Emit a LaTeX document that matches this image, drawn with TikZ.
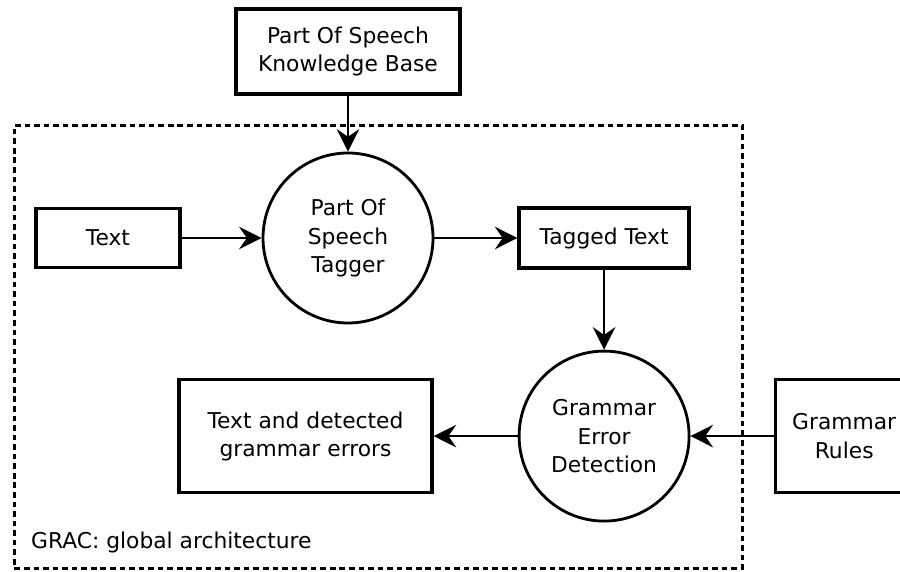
\documentclass[tikz,border=0pt]{standalone}
\usepackage{fontspec}
\setmainfont{DejaVu Sans}
\usetikzlibrary{
    positioning,
    arrows.meta
}

\begin{document}
\begin{tikzpicture}[
    font=\fontsize{15.5}{20}\selectfont,
    % node styles
    store/.style={rectangle, draw=black, line width=2.4pt, fill=white, align=center, inner sep=0pt},
    proc/.style={circle, draw=black, line width=2pt, fill=white, align=center, minimum size=4.25cm, inner sep=0pt},
    frame/.style={rectangle, draw=black, line width=2pt, dash pattern=on 4pt off 2.8pt, inner sep=0pt},
    % arrow styles
    arrow/.style={-{Stealth[length=16pt, width=16pt, inset=5.5pt]}, line width=1.8pt, draw=black}
]
\clip (0,0) rectangle (22.5,-14.3);

% --- system boundary ---
\node[frame, anchor=north west, minimum width=18.2cm, minimum height=11.075cm] (grac) at (0.325,-3.1) {};
\node[anchor=base west] (gracLabel) at ([shift={(0.33,0.525)}]grac.south west) {GRAC: global architecture};

% --- tagging ---
\node[proc] (tagger) at (8.7,-5.95) {Part Of\\Speech\\Tagger};
\node[store, minimum width=5.6cm, minimum height=2.125cm] (kb) [above=1.4cm of tagger] {Part Of Speech\\Knowledge Base};
\node[store, minimum width=3.6cm, minimum height=1.475cm] (text) [left=2cm of tagger] {Text};
\node[store, minimum width=4.25cm, minimum height=1.5cm] (tagged) [right=2.075cm of tagger] {Tagged Text};
\draw[arrow] (kb) -- (tagger);
\draw[arrow] (text) -- (tagger);
\draw[arrow] (tagger) -- (tagged);

% --- detection ---
\node[proc] (ged) [below=2cm of tagged] {Grammar\\Error\\Detection};
\node[store, minimum width=6.325cm, minimum height=2.825cm] (output) [left=2.1cm of ged] {Text and detected\\grammar errors};
\node[store, minimum width=3.45cm, minimum height=2.825cm] (rules) [right=2.075cm of ged] {Grammar\\Rules};
\draw[arrow] (tagged) -- (ged);
\draw[arrow] (ged) -- (output);
\draw[arrow] (rules) -- (ged);

\end{tikzpicture}
\end{document}
